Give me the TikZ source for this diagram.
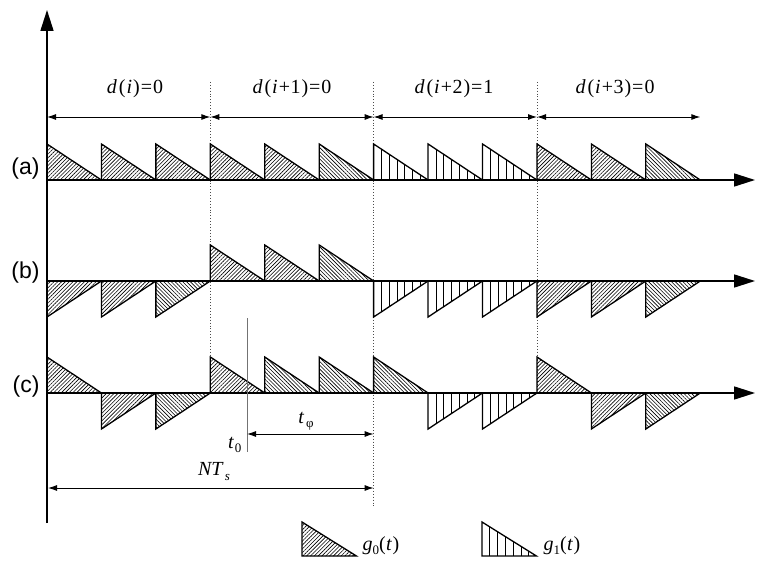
\documentclass[tikz,border=0pt]{standalone}
\usepackage{fontspec}
\setmainfont{Liberation Serif}
\newfontfamily\labfont{Liberation Sans}
\usetikzlibrary{arrows.meta,patterns.meta}
\newcommand{\sw}{54.44}
\newcommand{\subsz}{\fontsize{13}{14}\selectfont}
\newcommand{\mytri}[4]{% #1 x0, #2 baseline, #3 signed height, #4 type A/B/G
  \if A#4\relax
    \fill[hatchA] (#1,#2) -- (#1,{#2-#3}) -- ({#1+\sw},#2) -- cycle;
  \fi
  \if B#4\relax
    \fill[hatchB] (#1,#2) -- (#1,{#2-#3}) -- ({#1+\sw},#2) -- cycle;
  \fi
  \if G#4\relax
    \foreach \j in {1,...,6}{
      \draw[vline] ({#1+\j*\sw/7},#2) -- ({#1+\j*\sw/7},{#2-#3*(1-\j/7)});
    }
  \fi
  \draw[triedge] (#1,#2) -- (#1,{#2-#3}) -- ({#1+\sw},#2) -- cycle;
}
\begin{document}
\begin{tikzpicture}[x=1pt,y=-1pt,
  axis/.style={line width=1.6pt,-{Triangle[length=21pt,width=13pt]}},
  hatchA/.style={pattern={Lines[angle=45,distance=2.7pt,line width=0.6pt]}},
  hatchB/.style={pattern={Lines[angle=-45,distance=2.7pt,line width=0.6pt]}},
  vline/.style={line width=0.7pt},
  triedge/.style={line width=1.3pt,line join=miter},
  dimarrow/.style={line width=0.9pt,{Latex[length=9pt,width=6pt]}-{Latex[length=9pt,width=6pt]}},
  divider/.style={dotted,line width=0.9pt,black!70},
  toplab/.style={font=\fontsize{20}{22}\selectfont},
  rowlab/.style={font=\labfont\fontsize{23}{26}\selectfont,anchor=east},
  leglab/.style={font=\fontsize{20}{22}\selectfont,anchor=west}]
\useasboundingbox (0,0) rectangle (760,561);

% boundary coordinates
\coordinate (s0) at (47,117);
\coordinate (s3) at (210.3,117);
\coordinate (s6) at (373.6,117);
\coordinate (s9) at (537,117);
\coordinate (s12) at (700.3,117);

% dividers
\draw[divider] (210.3,82) -- (210.3,393);
\draw[divider] (373.6,82) -- (373.6,507);
\draw[divider] (537,82) -- (537,393);

% row (a)
\foreach \k/\s/\t in {0/1/A,1/1/A,2/1/A,3/1/A,4/1/A,5/1/B,6/1/G,7/1/G,8/1/G,9/1/A,10/1/A,11/1/B}{
  \pgfmathsetmacro\xa{47+\k*\sw}
  \mytri{\xa}{180}{36*\s}{\t}
}
% row (b)
\foreach \k/\s/\t in {0/-1/A,1/-1/A,2/-1/B,3/1/A,4/1/A,5/1/B,6/-1/G,7/-1/G,8/-1/G,9/-1/A,10/-1/A,11/-1/B}{
  \pgfmathsetmacro\xa{47+\k*\sw}
  \mytri{\xa}{281}{36*\s}{\t}
}
% row (c)
\foreach \k/\s/\t in {0/1/A,1/-1/A,2/-1/B,3/1/A,4/1/B,5/1/B,6/1/B,7/-1/G,8/-1/G,9/1/A,10/-1/A,11/-1/B}{
  \pgfmathsetmacro\xa{47+\k*\sw}
  \mytri{\xa}{393}{36*\s}{\t}
}

% axes
\draw[axis] (47,180) -- (755,180);
\draw[axis] (47,281) -- (755,281);
\draw[axis] (47,393) -- (755,393);
\draw[axis] (47,523) -- (47,10);

% top dimension arrows
\draw[dimarrow] (s0) -- (s3);
\draw[dimarrow] (s3) -- (s6);
\draw[dimarrow] (s6) -- (s9);
\draw[dimarrow] (s9) -- (s12);

\node[toplab] (d0) at (135,89) {\textit{d}\kern2pt(\kern1pt\textit{i}\kern1pt)\kern1pt=\kern1pt0};
\node[toplab] (d1) at (292,89) {\textit{d}\kern2pt(\kern1pt\textit{i}\kern1pt+\kern0.5pt1\kern1pt)\kern1pt=\kern1pt0};
\node[toplab] (d2) at (454,89) {\textit{d}\kern2pt(\kern1pt\textit{i}\kern1pt+\kern0.5pt2\kern1pt)\kern1pt=\kern1pt1};
\node[toplab] (d3) at (615,89) {\textit{d}\kern2pt(\kern1pt\textit{i}\kern1pt+\kern0.5pt3\kern1pt)\kern1pt=\kern1pt0};

% row labels
\node[rowlab] (la) at (43,169) {(a)};
\node[rowlab] (lb) at (43,273) {(b)};
\node[rowlab] (lc) at (43,387) {(c)};

% t0 and t_phi
\coordinate (t0top) at (247,318);
\coordinate (t0bot) at (247,452);
\draw[black!55,line width=1pt] (t0top) -- (t0bot);
\coordinate (tpa) at (247,434);
\coordinate (tpb) at (373.6,434);
\draw[dimarrow] (tpa) -- (tpb);
\node[toplab] (tphi) at (306,421) {\textit{t}\kern2pt\raisebox{-4pt}{\subsz φ}};
\node[toplab,anchor=east] (tzero) at (245,445) {\textit{t}\kern1pt\raisebox{-4pt}{\subsz 0}};

% NT_s
\coordinate (na) at (48,488);
\coordinate (nb) at (373.6,488);
\draw[dimarrow] (na) -- (nb);
\node[toplab] (nts) at (214,472) {\textit{NT}\kern1pt\raisebox{-5pt}{\subsz\textit{s}}};

% legend
\mytri{302}{556}{34}{A}
\node[leglab] (g0) at (359,546) {\textit{g}\raisebox{-4pt}{\subsz 0}(\kern0.5pt\textit{t}\kern0.5pt)};
\mytri{482}{556}{34}{G}
\node[leglab] (g1) at (540,546) {\textit{g}\raisebox{-4pt}{\subsz 1}(\kern0.5pt\textit{t}\kern0.5pt)};
\end{tikzpicture}
\end{document}
